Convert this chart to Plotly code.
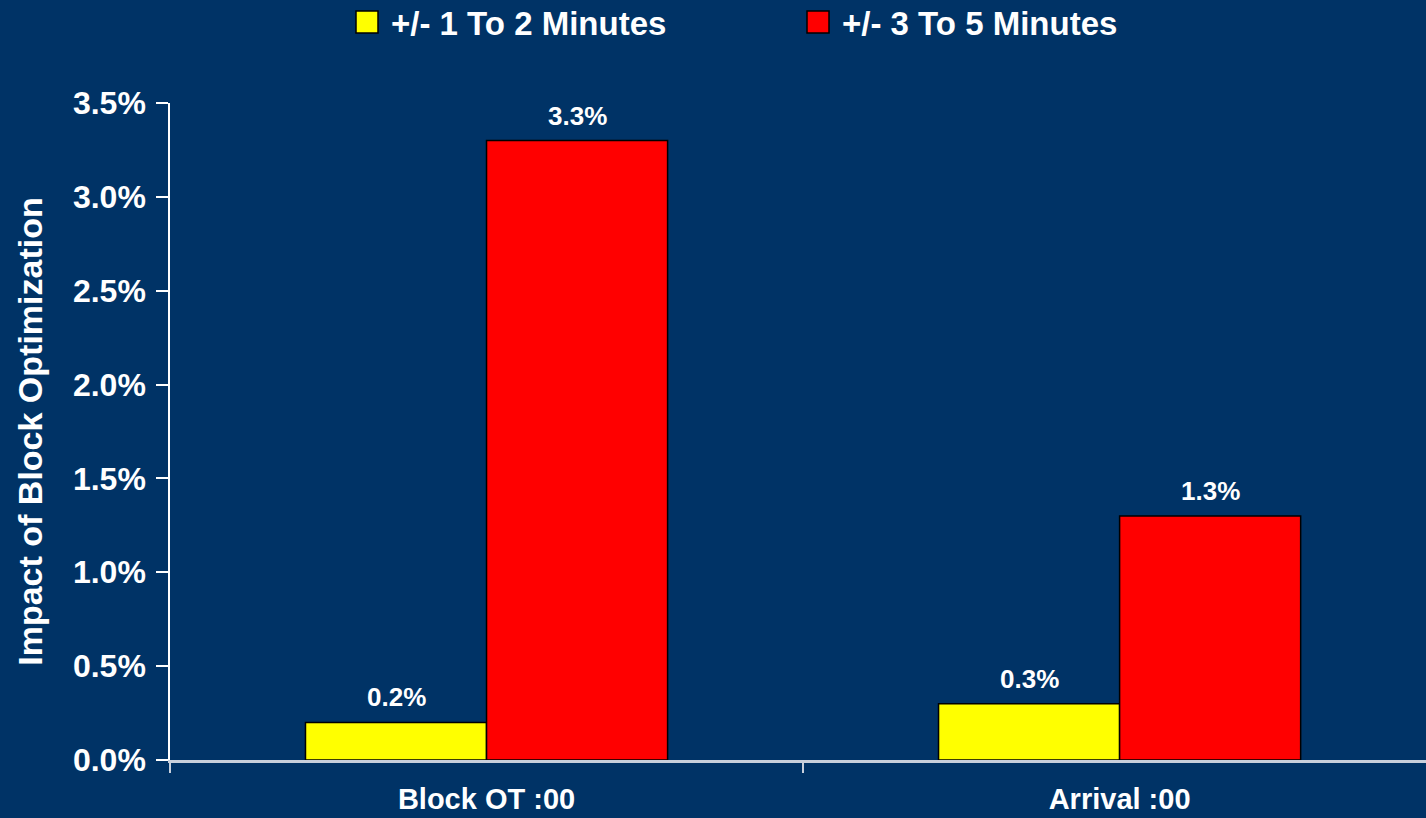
import plotly.graph_objects as go

categories = ["Block OT :00", "Arrival :00"]
series_names = ["+/- 1 To 2 Minutes", "+/- 3 To 5 Minutes"]
series_values = [
    [0.002, 0.003],
    [0.033, 0.013],
]
series_colors = ["#FFFF00", "#FF0000"]
y_ticks = [0.0, 0.005, 0.010, 0.015, 0.020, 0.025, 0.030, 0.035]

BG = "#003366"
FONT = "Liberation Sans, Arial, sans-serif"

W, H = 1426, 818
ML, MR, MT, MB = 170, 0, 103, 58
PW, PH = W - ML - MR, H - MT - MB


def px_to_paper_x(px):
    return (px - ML) / PW


def px_to_paper_y(py):
    return (H - MB - py) / PH


fig = go.Figure()
for name, vals, col in zip(series_names, series_values, series_colors):
    fig.add_trace(go.Bar(
        name=name, x=categories, y=vals,
        marker=dict(color=col, line=dict(color="#000000", width=1.5)),
        showlegend=False,
    ))

# value labels above bars (anchored at data values)
bar_shift = [-90.5, 90.5]
annotations = []
for i, vals in enumerate(series_values):
    for cat, v in zip(categories, vals):
        annotations.append(dict(
            x=cat, y=v, xref="x", yref="y", xshift=bar_shift[i], yshift=25,
            text=f"<b>{v*100:.1f}%</b>", showarrow=False,
            xanchor="center", yanchor="middle",
            font=dict(size=26, color="white", family=FONT),
        ))

# legend (keys + labels) at top
legend_key_px = [356, 807]
legend_text_px = [389, 840]
shapes = []
for i, (name, col) in enumerate(zip(series_names, series_colors)):
    shapes.append(dict(
        type="rect", xref="paper", yref="paper",
        xsizemode="pixel", ysizemode="pixel",
        xanchor=px_to_paper_x(legend_key_px[i]), yanchor=px_to_paper_y(33),
        x0=0, x1=22, y0=0, y1=22,
        fillcolor=col, line=dict(color="#000000", width=1.5),
    ))
    annotations.append(dict(
        x=px_to_paper_x(legend_text_px[i]), y=px_to_paper_y(23),
        xref="paper", yref="paper", xanchor="left", yanchor="middle",
        text=f"<b>{name}</b>", showarrow=False,
        font=dict(size=33, color="white", family=FONT),
    ))

fig.update_layout(
    width=W, height=H,
    paper_bgcolor=BG, plot_bgcolor=BG,
    margin=dict(l=ML, r=MR, t=MT, b=MB, autoexpand=False),
    barmode="group", bargap=0.428, bargroupgap=0,
    font=dict(family=FONT, color="white"),
    showlegend=False,
    annotations=annotations,
    shapes=shapes,
)
fig.update_xaxes(
    range=[-0.5, 1.484], showline=True, linecolor="#C8D0DC", linewidth=2.5,
    ticks="outside", tickson="boundaries", ticklen=10, tickwidth=2, tickcolor="#C8D0DC",
    tickfont=dict(size=29, color="white", family=FONT),
    tickvals=categories, ticktext=[f"<b>{c}</b>" for c in categories],
    ticklabelstandoff=11, showgrid=False, zeroline=False, fixedrange=True,
)
fig.update_yaxes(
    range=[0, 0.035], tickvals=y_ticks,
    ticktext=[f"<b>{v*100:.1f}%</b>" for v in y_ticks],
    showline=True, linecolor="white", linewidth=1.5,
    ticks="outside", ticklen=12, tickwidth=1.5, tickcolor="white",
    tickfont=dict(size=32, color="white", family=FONT),
    ticklabelstandoff=4,
    showgrid=False, zeroline=False,
    title=dict(text="<b>Impact of Block Optimization</b>", font=dict(size=34, color="white", family=FONT), standoff=20),
)
fig.write_html("out.html")
